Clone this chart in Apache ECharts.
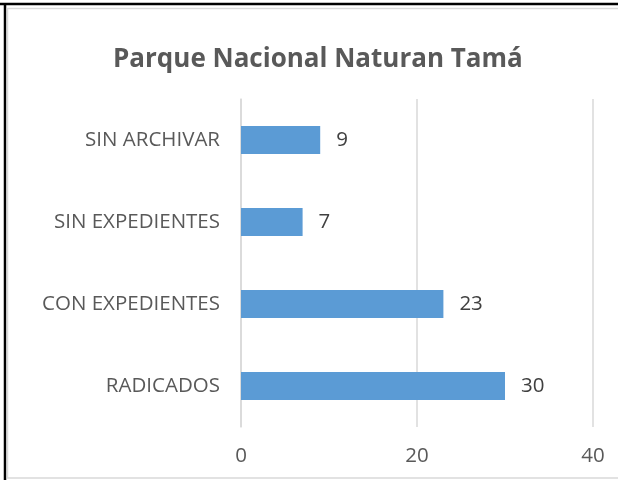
<!DOCTYPE html>
<html><head><meta charset="utf-8">
<script src="https://cdn.jsdelivr.net/npm/echarts@6/dist/echarts.min.js"></script>
<style>html,body{margin:0;padding:0;background:#fff;}#c{width:618px;height:480px;}</style>
</head><body><div id="c"></div>
<script>
const titleText = 'Parque Nacional Naturan Tamá';
const categories = ['RADICADOS', 'CON EXPEDIENTES', 'SIN EXPEDIENTES', 'SIN ARCHIVAR'];
const values = [30, 23, 7, 9];
const xTicks = [0, 20, 40];

const FONT = 'Open Sans';
const chart = echarts.init(document.getElementById('c'), null, {renderer: 'canvas'});
chart.setOption({
  backgroundColor: '#fff',
  animation: false,
  title: {
    text: titleText, left: 108, top: 42,
    textStyle: {fontFamily: FONT, fontSize: 26, fontWeight: 'bold', color: '#595959'}
  },
  grid: {left: 241, right: 25, top: 99, bottom: 53, containLabel: false},
  xAxis: {
    type: 'value', min: xTicks[0], max: xTicks[xTicks.length - 1], interval: 20,
    axisLine: {show: false}, axisTick: {show: false},
    splitLine: {show: true, lineStyle: {color: '#d9d9d9', width: 1.5}},
    axisLabel: {fontFamily: FONT, fontSize: 20.5, color: '#595959', margin: 19}
  },
  yAxis: {
    type: 'category', data: categories,
    axisLine: {show: true, lineStyle: {color: '#d9d9d9', width: 1.5}},
    axisTick: {show: false},
    axisLabel: {fontFamily: FONT, fontSize: 20.5, color: '#595959', margin: 21}
  },
  series: [{
    type: 'bar', data: values, barWidth: '34%',
    itemStyle: {color: '#5B9BD5'},
    label: {show: true, position: 'right', distance: 16, fontFamily: FONT, fontSize: 20.5, color: '#404040'}
  }],
  graphic: [
    {type: 'line', shape: {x1: 0, y1: 4, x2: 618, y2: 4}, style: {stroke: '#000', lineWidth: 2.5}, silent: true},
    {type: 'line', shape: {x1: 5, y1: 3, x2: 5, y2: 480}, style: {stroke: '#000', lineWidth: 2.5}, silent: true},
    {type: 'line', shape: {x1: 7, y1: 8.5, x2: 618, y2: 8.5}, style: {stroke: '#d9d9d9', lineWidth: 1.5}, silent: true},
    {type: 'line', shape: {x1: 7.5, y1: 8, x2: 7.5, y2: 478}, style: {stroke: '#d9d9d9', lineWidth: 1.5}, silent: true},
    {type: 'line', shape: {x1: 7, y1: 478, x2: 618, y2: 478}, style: {stroke: '#d9d9d9', lineWidth: 1.5}, silent: true}
  ]
});
</script></body></html>
